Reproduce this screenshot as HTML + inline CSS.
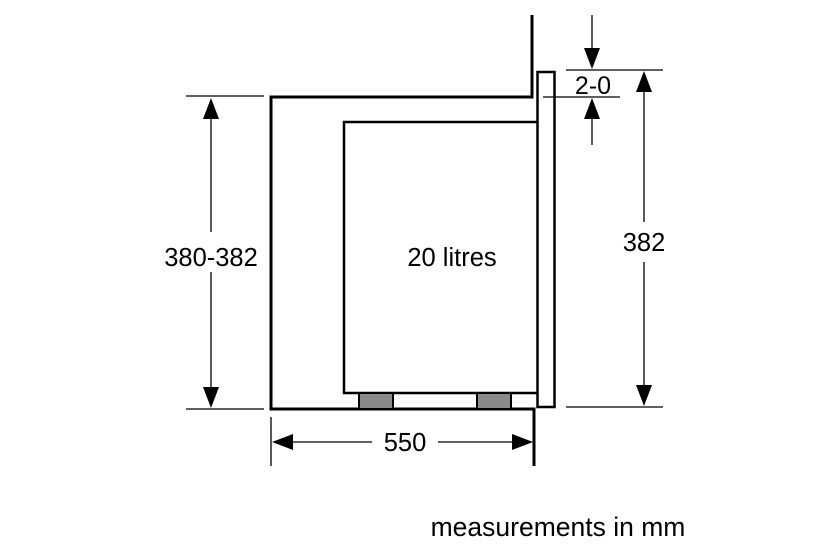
<!DOCTYPE html>
<html><head><style>body{margin:0;background:#fff}svg{display:block}</style></head><body>
<svg width="833" height="555" viewBox="0 0 833 555" xmlns="http://www.w3.org/2000/svg" font-family="Liberation Sans, Arial, sans-serif">
<g fill="none" stroke="#000">
<polyline points="532,15 532,97 271,97 271,409 534,409 534,466" stroke-width="3"/>
<polyline points="537,122 344,122 344,393 537,393" stroke-width="2.5"/>
<rect x="537.5" y="72" width="17" height="335" stroke-width="2.5"/>
</g>
<rect x="359" y="393" width="34" height="16" fill="#8a8a8a" stroke="#000" stroke-width="2"/>
<rect x="477" y="393" width="34" height="16" fill="#8a8a8a" stroke="#000" stroke-width="2"/>
<g stroke="#000" stroke-width="1.3">
<line x1="186" y1="96" x2="264" y2="96"/>
<line x1="186" y1="409" x2="264" y2="409"/>
<line x1="211" y1="110" x2="211" y2="232"/>
<line x1="211" y1="272" x2="211" y2="396"/>
<line x1="566" y1="70" x2="663" y2="70"/>
<line x1="543" y1="97" x2="620" y2="97"/>
<line x1="566" y1="407" x2="663" y2="407"/>
<line x1="592" y1="15" x2="592" y2="56"/>
<line x1="592" y1="110" x2="592" y2="145"/>
<line x1="644" y1="84" x2="644" y2="222"/>
<line x1="644" y1="262" x2="644" y2="394"/>
<line x1="271" y1="417" x2="271" y2="466"/>
<line x1="285" y1="442" x2="372" y2="442"/>
<line x1="438" y1="442" x2="520" y2="442"/>
</g>
<g fill="#000">
<polygon points="211,98 203,119 219,119"/>
<polygon points="211,408 203,387 219,387"/>
<polygon points="592,69 584,48 600,48"/>
<polygon points="592,98 584,119 600,119"/>
<polygon points="644,71 636,92 652,92"/>
<polygon points="644,406 636,385 652,385"/>
<polygon points="272,442 293,434 293,450"/>
<polygon points="533,442 512,434 512,450"/>
</g>
<g font-size="25.5" fill="#000" text-anchor="middle">
<text x="211" y="266">380-382</text>
<text x="452" y="266">20 litres</text>
<text x="644" y="251">382</text>
<text x="405" y="451">550</text>
<text x="593" y="94" font-size="25">2-0</text>
<text x="558" y="536" font-size="26.5">measurements in mm</text>
</g>
</svg>
</body></html>
